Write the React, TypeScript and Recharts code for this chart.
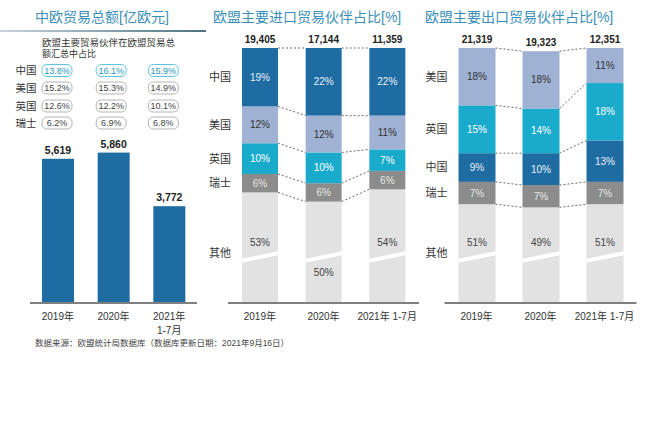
import React from 'react';
import { BarChart, Bar, XAxis, YAxis } from 'recharts';

const font = "'Liberation Sans', 'Noto Sans CJK SC', sans-serif";

// left panel: China-EU trade total
const tradeYears = ['2019年', '2020年', '2021年'];
const tradeYearSub = ['', '', '1-7月'];
const tradeTotal = [5619, 5860, 3772];

// share of EU total trade
const partnerNames = ['中国', '美国', '英国', '瑞士'];
const shareChina = [13.8, 16.1, 15.9];
const shareUS = [15.2, 15.3, 14.9];
const shareUK = [12.6, 12.2, 10.1];
const shareSwiss = [6.2, 6.9, 6.8];

// middle / right panels
const stackYears = ['2019年', '2020年', '2021年 1-7月'];

const importTotal = [19405, 17144, 11359];
const importChina = [19, 22, 22];
const importUS = [12, 12, 11];
const importUK = [10, 10, 7];
const importSwiss = [6, 6, 6];
const importOther = [53, 50, 54];
const importOtherShown = [36, 33, 37]; // shortened (broken segment)

const exportTotal = [21319, 19323, 12351];
const exportUS = [18, 18, 11];
const exportUK = [15, 14, 18];
const exportChina = [9, 10, 13];
const exportSwiss = [7, 7, 7];
const exportOther = [51, 49, 51];
const exportOtherShown = [31, 30, 31];

const C_CHINA = '#1f6ca3';
const C_US = '#9fb2d3';
const C_UK = '#1aabcc';
const C_SWISS = '#8c8c8c';
const C_OTHER = '#e2e2e2';

const tradeData = tradeYears.map((year, i) => ({ year, sub: tradeYearSub[i], total: tradeTotal[i] }));

const importData = stackYears.map((year, i) => ({
  year,
  china: importChina[i],
  us: importUS[i],
  uk: importUK[i],
  swiss: importSwiss[i],
  other: importOther[i],
  otherShown: importOtherShown[i],
}));

const exportData = stackYears.map((year, i) => ({
  year,
  china: exportChina[i],
  us: exportUS[i],
  uk: exportUK[i],
  swiss: exportSwiss[i],
  other: exportOther[i],
  otherShown: exportOtherShown[i],
}));

type Seg = { key: string; name: string; color: string; text: string };

// bottom -> top
const importSegs: Seg[] = [
  { key: 'otherShown', name: '其他', color: C_OTHER, text: '#444' },
  { key: 'swiss', name: '瑞士', color: C_SWISS, text: '#e6e6e6' },
  { key: 'uk', name: '英国', color: C_UK, text: '#ffffff' },
  { key: 'us', name: '美国', color: C_US, text: '#333' },
  { key: 'china', name: '中国', color: C_CHINA, text: '#e8f0f8' },
];
const exportSegs: Seg[] = [
  { key: 'otherShown', name: '其他', color: C_OTHER, text: '#444' },
  { key: 'swiss', name: '瑞士', color: C_SWISS, text: '#e6e6e6' },
  { key: 'china', name: '中国', color: C_CHINA, text: '#e8f0f8' },
  { key: 'uk', name: '英国', color: C_UK, text: '#ffffff' },
  { key: 'us', name: '美国', color: C_US, text: '#333' },
];

const fmt = (n: number) => n.toLocaleString('en-US');

function TradeTick(props: any) {
  const { x, y, payload, index } = props;
  return (
    <g>
      <text x={x} y={y + 9} textAnchor="middle" fontSize={10} fill="#333" fontFamily={font}>
        {payload.value}
      </text>
      {tradeYearSub[index] ? (
        <text x={x} y={y + 23} textAnchor="middle" fontSize={10} fill="#333" fontFamily={font}>
          {tradeYearSub[index]}
        </text>
      ) : null}
    </g>
  );
}

function StackTick(props: any) {
  const { x, y, payload } = props;
  return (
    <text x={x} y={y + 9} textAnchor="middle" fontSize={10} fill="#333" fontFamily={font}>
      {payload.value}
    </text>
  );
}

const pillRows = [shareChina, shareUS, shareUK, shareSwiss];
const pillY = [70.5, 88, 106, 123];
const pillShift = [-1, -2.5, -6];

function TradeBar(props: any) {
  const { x, y, width, height, index } = props;
  const cx = x + width / 2 + pillShift[index];
  return (
    <g>
      <rect x={x} y={y} width={width} height={height} fill={C_CHINA} />
      <text x={x + width / 2} y={y - 5} textAnchor="middle" fontSize={10.5} fontWeight="bold" fill="#222" fontFamily={font}>
        {fmt(tradeTotal[index])}
      </text>
      {pillRows.map((vals, r) => (
        <g key={r}>
          <rect
            x={cx - 15}
            y={pillY[r] - 6}
            width={30}
            height={12}
            rx={5}
            fill="#fff"
            stroke={r === 0 ? '#5bc4dc' : '#b4b4b4'}
            strokeWidth={1}
          />
          <text x={cx} y={pillY[r] + 3.3} textAnchor="middle" fontSize={9} fill={r === 0 ? '#2596bd' : '#444'} fontFamily={font}>
            {vals[index].toFixed(1)}%
          </text>
        </g>
      ))}
    </g>
  );
}

function makeSegShape(rows: any[], segs: Seg[], segIdx: number, totals: number[], band: number, otherBelow: boolean[]) {
  return (props: any) => {
    const { x, y, width, height, index } = props;
    const row = rows[index];
    const seg = segs[segIdx];
    const val = row[seg.key];
    const ppu = height / val;
    const cumBelow = segs.slice(0, segIdx).reduce((s, g) => s + row[g.key], 0);
    const bottom = y + height + cumBelow * ppu;
    const isOther = segIdx === 0;
    const isTop = segIdx === segs.length - 1;
    const breakY = y + height - 46;
    let connector = null;
    if (index < rows.length - 1) {
      const next = rows[index + 1];
      const cumNext = segs.slice(0, segIdx + 1).reduce((s, g) => s + next[g.key], 0);
      const nextY = bottom - cumNext * ppu;
      connector = (
        <line x1={x + width} y1={y} x2={x + band} y2={nextY} stroke="#6a6a6a" strokeWidth={1} strokeDasharray="2 2" />
      );
    }
    const labelY = isOther ? (otherBelow[index] ? breakY + 15 : breakY - 15) : y + height / 2;
    const labelVal = isOther ? row.other : val;
    const nameY = isOther ? breakY - 4 : y + height / 2;
    return (
      <g>
        <rect x={x} y={y} width={width} height={height} fill={seg.color} />
        {isOther ? (
          <polygon
            points={`${x - 1},${breakY + 2} ${x + width + 1},${breakY - 6} ${x + width + 1},${breakY - 2} ${x - 1},${breakY + 6}`}
            fill="#fff"
          />
        ) : null}
        <text x={x + width / 2} y={labelY} dy="0.35em" textAnchor="middle" fontSize={10} fill={seg.text} fontFamily={font}>
          {labelVal}%
        </text>
        {connector}
        {index === 0 ? (
          <text x={x - 22} y={nameY} dy="0.36em" textAnchor="middle" fontSize={11} fill="#333" fontFamily={font}>
            {seg.name}
          </text>
        ) : null}
        {isTop ? (
          <text x={x + width / 2} y={y - 5} textAnchor="middle" fontSize={10} fontWeight="bold" fill="#222" fontFamily={font}>
            {fmt(totals[index])}
          </text>
        ) : null}
      </g>
    );
  };
}

function StackPanel(props: {
  data: any[];
  segs: Seg[];
  totals: number[];
  width: number;
  left: number;
  right: number;
  domainMax: number;
  barSize: number;
  otherBelow: boolean[];
  posLeft: number;
}) {
  const { data, segs, totals, width, left, right, domainMax, barSize, otherBelow, posLeft } = props;
  const band = (width - left - right) / data.length;
  return (
    <div style={{ position: 'absolute', left: posLeft, top: 0 }}>
      <BarChart width={width} height={340} data={data} margin={{ top: 48, right, left, bottom: 7 }} barCategoryGap={0}>
        <YAxis hide domain={[0, domainMax]} />
        <XAxis
          dataKey="year"
          height={30}
          axisLine={{ stroke: '#808080', strokeWidth: 2 }}
          tickLine={false}
          tick={<StackTick />}
          interval={0}
        />
        {segs.map((s, i) => (
          <Bar
            key={s.key}
            dataKey={s.key}
            stackId="a"
            fill={s.color}
            barSize={barSize}
            isAnimationActive={false}
            shape={makeSegShape(data, segs, i, totals, band, otherBelow)}
          />
        ))}
      </BarChart>
    </div>
  );
}

export default function App() {
  return (
    <div style={{ position: 'absolute', left: 0, top: 0, width: 650, height: 425, background: '#fff', overflow: 'hidden' }}>
      <div style={{ position: 'absolute', left: 0, top: 0 }}>
        <BarChart width={210} height={340} data={tradeData} margin={{ top: 149, right: 13, left: 30, bottom: 7 }}>
          <YAxis hide domain={[0, 6000]} />
          <XAxis
            dataKey="year"
            height={30}
            axisLine={{ stroke: '#808080', strokeWidth: 2 }}
            tickLine={false}
            tick={<TradeTick />}
            interval={0}
          />
          <Bar dataKey="total" fill={C_CHINA} barSize={32} isAnimationActive={false} shape={<TradeBar />} />
        </BarChart>
      </div>
      <StackPanel
        data={importData}
        segs={importSegs}
        totals={importTotal}
        width={225}
        left={28}
        right={6}
        domainMax={83}
        barSize={36}
        otherBelow={[false, true, false]}
        posLeft={200}
      />
      <StackPanel
        data={exportData}
        segs={exportSegs}
        totals={exportTotal}
        width={230}
        left={24.5}
        right={13.5}
        domainMax={80}
        barSize={37}
        otherBelow={[false, false, false]}
        posLeft={420}
      />
      <svg width={650} height={425} style={{ position: 'absolute', left: 0, top: 0, pointerEvents: 'none' }}>
        <defs>
          <linearGradient id="uline" x1="0" y1="0" x2="1" y2="0">
            <stop offset="0" stopColor="#c8d5de" />
            <stop offset="1" stopColor="#4d7385" />
          </linearGradient>
        </defs>
        <text x={35} y={22} fontSize={14} fill="#3c8fb8" fontFamily={font}>中欧贸易总额[亿欧元]</text>
        <text x={213} y={22} fontSize={14} fill="#3c8fb8" fontFamily={font}>欧盟主要进口贸易伙伴占比[%]</text>
        <text x={425} y={22} fontSize={14} fill="#3c8fb8" fontFamily={font}>欧盟主要出口贸易伙伴占比[%]</text>
        <rect x={0} y={30} width={206} height={2} fill="url(#uline)" />
        <text x={42} y={46} fontSize={9} fill="#333" fontFamily={font} textLength={133} lengthAdjust="spacingAndGlyphs">
          欧盟主要贸易伙伴在欧盟贸易总
        </text>
        <text x={42} y={57} fontSize={9} fill="#333" fontFamily={font}>额汇总中占比</text>
        {partnerNames.map((n, i) => (
          <text key={n} x={26} y={pillY[i]} dy="0.36em" textAnchor="middle" fontSize={10.5} fill="#333" fontFamily={font}>
            {n}
          </text>
        ))}
        <text x={35} y={346} fontSize={8.5} fill="#444" fontFamily={font}>
          数据来源：欧盟统计局数据库（数据库更新日期：2021年9月16日）
        </text>
      </svg>
    </div>
  );
}
